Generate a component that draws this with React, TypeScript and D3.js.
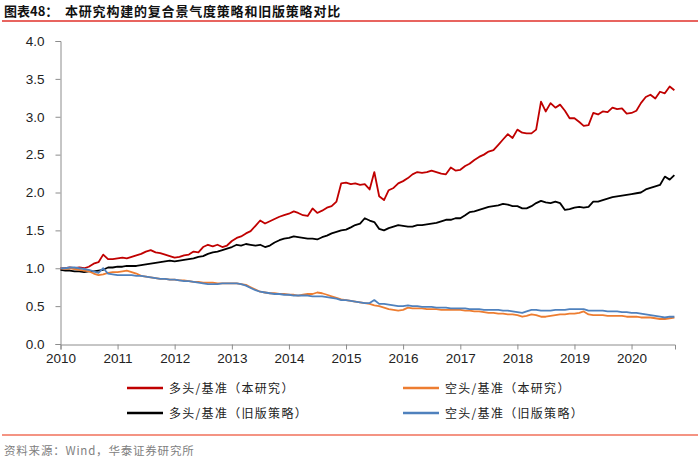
import React, { useEffect, useRef } from 'react';
import * as d3 from 'd3';

// monthly closes, Jan 2010 .. Oct 2020
const longNew = [
    1.00, 1.00, 1.01, 1.00, 1.01, 1.00, 1.02, 1.06, 1.08, 1.18, 1.12, 1.12,
    1.13, 1.14, 1.13, 1.15, 1.17, 1.19, 1.22, 1.24, 1.21, 1.20, 1.18, 1.16,
    1.14, 1.15, 1.17, 1.18, 1.22, 1.21, 1.28, 1.31, 1.29, 1.31, 1.28, 1.30,
    1.36, 1.40, 1.42, 1.46, 1.49, 1.56, 1.63, 1.59, 1.62, 1.65, 1.68, 1.70,
    1.72, 1.75, 1.73, 1.70, 1.69, 1.79, 1.73, 1.76, 1.80, 1.82, 1.88, 2.12,
    2.13, 2.11, 2.12, 2.10, 2.11, 2.04, 2.27, 1.95, 1.90, 2.03, 2.06, 2.12,
    2.15, 2.19, 2.24, 2.27, 2.26, 2.27, 2.29, 2.27, 2.25, 2.24, 2.33, 2.29,
    2.30, 2.35, 2.38, 2.43, 2.47, 2.50, 2.54, 2.56, 2.63, 2.70, 2.77, 2.72,
    2.83, 2.79, 2.78, 2.78, 2.83, 3.20, 3.07, 3.18, 3.12, 3.16, 3.08, 2.98,
    2.98, 2.93, 2.88, 2.89, 3.05, 3.03, 3.07, 3.06, 3.12, 3.10, 3.11, 3.04,
    3.05, 3.08, 3.18, 3.26, 3.29, 3.24, 3.33, 3.31, 3.40, 3.35
];

const shortNew = [
    1.00, 0.99, 1.00, 0.99, 0.98, 0.97, 0.96, 0.93, 0.91, 0.92, 0.94, 0.95,
    0.95, 0.96, 0.97, 0.95, 0.93, 0.90, 0.89, 0.88, 0.87, 0.86, 0.86, 0.85,
    0.85, 0.84, 0.84, 0.83, 0.82, 0.82, 0.81, 0.81, 0.81, 0.80, 0.80, 0.80,
    0.80, 0.80, 0.79, 0.78, 0.75, 0.72, 0.69, 0.68, 0.67, 0.67, 0.66, 0.66,
    0.65, 0.65, 0.64, 0.65, 0.66, 0.66, 0.68, 0.67, 0.65, 0.63, 0.61, 0.59,
    0.58, 0.57, 0.56, 0.55, 0.54, 0.53, 0.51, 0.50, 0.48, 0.46, 0.45, 0.44,
    0.45, 0.48, 0.47, 0.47, 0.47, 0.46, 0.46, 0.46, 0.45, 0.45, 0.45, 0.45,
    0.45, 0.44, 0.44, 0.43, 0.43, 0.42, 0.41, 0.41, 0.40, 0.40, 0.39, 0.39,
    0.38, 0.36, 0.37, 0.39, 0.38, 0.36, 0.36, 0.37, 0.38, 0.39, 0.39, 0.40,
    0.40, 0.41, 0.43, 0.39, 0.38, 0.38, 0.38, 0.37, 0.37, 0.37, 0.37, 0.36,
    0.36, 0.36, 0.35, 0.35, 0.35, 0.34, 0.33, 0.33, 0.34, 0.35
];

const longOld = [
    0.98, 0.97, 0.97, 0.96, 0.96, 0.95, 0.96, 0.96, 0.97, 0.98, 1.01, 1.01,
    1.02, 1.02, 1.03, 1.03, 1.03, 1.04, 1.05, 1.06, 1.07, 1.08, 1.09, 1.10,
    1.09, 1.10, 1.11, 1.12, 1.13, 1.15, 1.16, 1.19, 1.21, 1.22, 1.24, 1.26,
    1.28, 1.31, 1.30, 1.32, 1.31, 1.30, 1.31, 1.28, 1.30, 1.34, 1.37, 1.39,
    1.40, 1.42, 1.41, 1.40, 1.39, 1.39, 1.38, 1.41, 1.43, 1.46, 1.48, 1.50,
    1.51, 1.54, 1.57, 1.59, 1.66, 1.63, 1.61, 1.52, 1.50, 1.53, 1.55, 1.57,
    1.56, 1.55, 1.55, 1.57, 1.57, 1.58, 1.59, 1.60, 1.62, 1.64, 1.64, 1.66,
    1.66, 1.70, 1.74, 1.75, 1.77, 1.79, 1.81, 1.82, 1.83, 1.85, 1.84, 1.82,
    1.82, 1.79, 1.79, 1.82, 1.86, 1.89, 1.87, 1.86, 1.88, 1.86, 1.77, 1.78,
    1.80, 1.81, 1.80, 1.81, 1.88, 1.88, 1.90, 1.92, 1.94, 1.95, 1.96, 1.97,
    1.98, 1.99, 2.00, 2.04, 2.06, 2.08, 2.10, 2.21, 2.17, 2.23
];

const shortOld = [
    1.00, 1.00, 1.01, 1.01, 1.00, 0.99, 0.98, 0.96, 0.94, 1.00, 0.93, 0.92,
    0.91, 0.91, 0.91, 0.91, 0.90, 0.90, 0.89, 0.88, 0.87, 0.86, 0.86, 0.85,
    0.85, 0.84, 0.83, 0.83, 0.82, 0.81, 0.80, 0.79, 0.79, 0.79, 0.80, 0.80,
    0.80, 0.80, 0.79, 0.77, 0.74, 0.71, 0.69, 0.68, 0.67, 0.66, 0.66, 0.65,
    0.65, 0.64, 0.64, 0.64, 0.64, 0.63, 0.63, 0.63, 0.62, 0.61, 0.60, 0.58,
    0.58, 0.57, 0.56, 0.55, 0.54, 0.54, 0.58, 0.53, 0.53, 0.52, 0.51, 0.50,
    0.50, 0.51, 0.50, 0.50, 0.49, 0.49, 0.49, 0.48, 0.48, 0.48, 0.47, 0.47,
    0.47, 0.47, 0.46, 0.46, 0.46, 0.45, 0.45, 0.45, 0.45, 0.44, 0.44, 0.43,
    0.42, 0.41, 0.43, 0.45, 0.45, 0.44, 0.44, 0.44, 0.45, 0.45, 0.45, 0.46,
    0.46, 0.46, 0.46, 0.44, 0.44, 0.44, 0.44, 0.43, 0.43, 0.43, 0.42, 0.42,
    0.41, 0.41, 0.40, 0.39, 0.38, 0.37, 0.36, 0.35, 0.36, 0.36
];

const yTicks = [0, 0.5, 1, 1.5, 2, 2.5, 3, 3.5, 4];
const xYears = [2010, 2011, 2012, 2013, 2014, 2015, 2016, 2017, 2018, 2019, 2020];

const series = [
    { name: '多头/基准（本研究）', values: longNew, color: '#C00000' },
    { name: '空头/基准（本研究）', values: shortNew, color: '#ED7D31' },
    { name: '多头/基准（旧版策略）', values: longOld, color: '#000000' },
    { name: '空头/基准（旧版策略）', values: shortOld, color: '#4F81BD' },
];

const W = 700;
const H = 458;

const App: React.FC = () => {
    const svgRef = useRef<SVGSVGElement>(null);

    useEffect(() => {
        if (!svgRef.current) return;
        const svg = d3.select(svgRef.current);
        svg.selectAll('*').remove();

        const months = d3.timeMonth.range(new Date(2010, 0, 1), new Date(2020, 10, 1));

        const x = d3.scaleTime()
            .domain([new Date(2010, 0, 1), new Date(2020, 9, 5)])
            .range([60.5, 675]);
        const y = d3.scaleLinear().domain([0, 4]).range([344, 41]);

        const cjk = '"Noto Sans CJK SC", sans-serif';

        // title
        svg.append('text')
            .attr('x', 4).attr('y', 16)
            .style('font-family', cjk)
            .style('font-size', '13px').style('font-weight', 'bold')
            .style('fill', '#111')
            .text('图表48：');
        svg.append('text')
            .attr('x', 65).attr('y', 16)
            .style('font-family', cjk)
            .style('font-size', '13px').style('font-weight', 'bold')
            .style('letter-spacing', '0.8px')
            .style('fill', '#111')
            .text('本研究构建的复合景气度策略和旧版策略对比');
        svg.append('line')
            .attr('x1', 2).attr('x2', 698).attr('y1', 21).attr('y2', 21)
            .style('stroke', '#E0302A').style('stroke-width', 1.5);

        const axisFont = '"Liberation Sans", Arial, sans-serif';

        // y axis
        const yAxis = svg.append('g')
            .attr('transform', 'translate(60.5,0)')
            .call(d3.axisLeft(y).tickValues(yTicks).tickSize(5).tickFormat(d3.format('.1f')));
        // x axis
        const xAxis = svg.append('g')
            .attr('transform', 'translate(0,344.5)')
            .call(d3.axisBottom(x)
                .tickValues(xYears.map(yr => new Date(yr, 0, 1)))
                .tickSize(5)
                .tickFormat(d3.timeFormat('%Y') as any));

        [yAxis, xAxis].forEach(a => {
            a.select('.domain').style('stroke', '#8c8c8c');
            a.selectAll('.tick line').style('stroke', '#8c8c8c');
            a.selectAll('.tick text')
                .style('font-family', axisFont)
                .style('font-size', '13.5px')
                .style('fill', '#222');
        });
        yAxis.selectAll('.tick text').attr('x', -16);
        xAxis.selectAll('.tick text').attr('y', 9);

        const line = d3.line<number>()
            .x((_, i) => x(months[i]))
            .y(d => y(d));

        const drawOrder = [0, 2, 1, 3];
        drawOrder.forEach(k => {
            const s = series[k];
            svg.append('path')
                .datum(s.values)
                .attr('d', line)
                .style('fill', 'none')
                .style('stroke', s.color)
                .style('stroke-width', 1.8)
                .style('stroke-linejoin', 'round');
        });

        // legend
        const cols = [127, 403];
        const rows = [388, 413];
        series.forEach((s, i) => {
            const lx = cols[i % 2];
            const ly = rows[Math.floor(i / 2)];
            svg.append('line')
                .attr('x1', lx).attr('x2', lx + 36)
                .attr('y1', ly).attr('y2', ly)
                .style('stroke', s.color).style('stroke-width', 2.5);
            svg.append('text')
                .attr('x', lx + 42).attr('y', ly + 4.5)
                .style('font-family', cjk)
                .style('font-size', '12px')
                .style('letter-spacing', '1.3px')
                .style('fill', '#222')
                .text(s.name);
        });

        // footer
        svg.append('line')
            .attr('x1', 2).attr('x2', 698).attr('y1', 435).attr('y2', 435)
            .style('stroke', '#F0705A').style('stroke-width', 1.5);
        svg.append('text')
            .attr('x', 4).attr('y', 455)
            .style('font-family', cjk)
            .style('font-size', '11.5px')
            .style('letter-spacing', '0.8px')
            .style('fill', '#808080')
            .text('资料来源：Wind，华泰证券研究所');
    }, []);

    return (
        <svg
            ref={svgRef}
            width={W}
            height={H}
            style={{ position: 'absolute', left: 0, top: 0, background: '#fff' }}
        />
    );
};

export default App;
